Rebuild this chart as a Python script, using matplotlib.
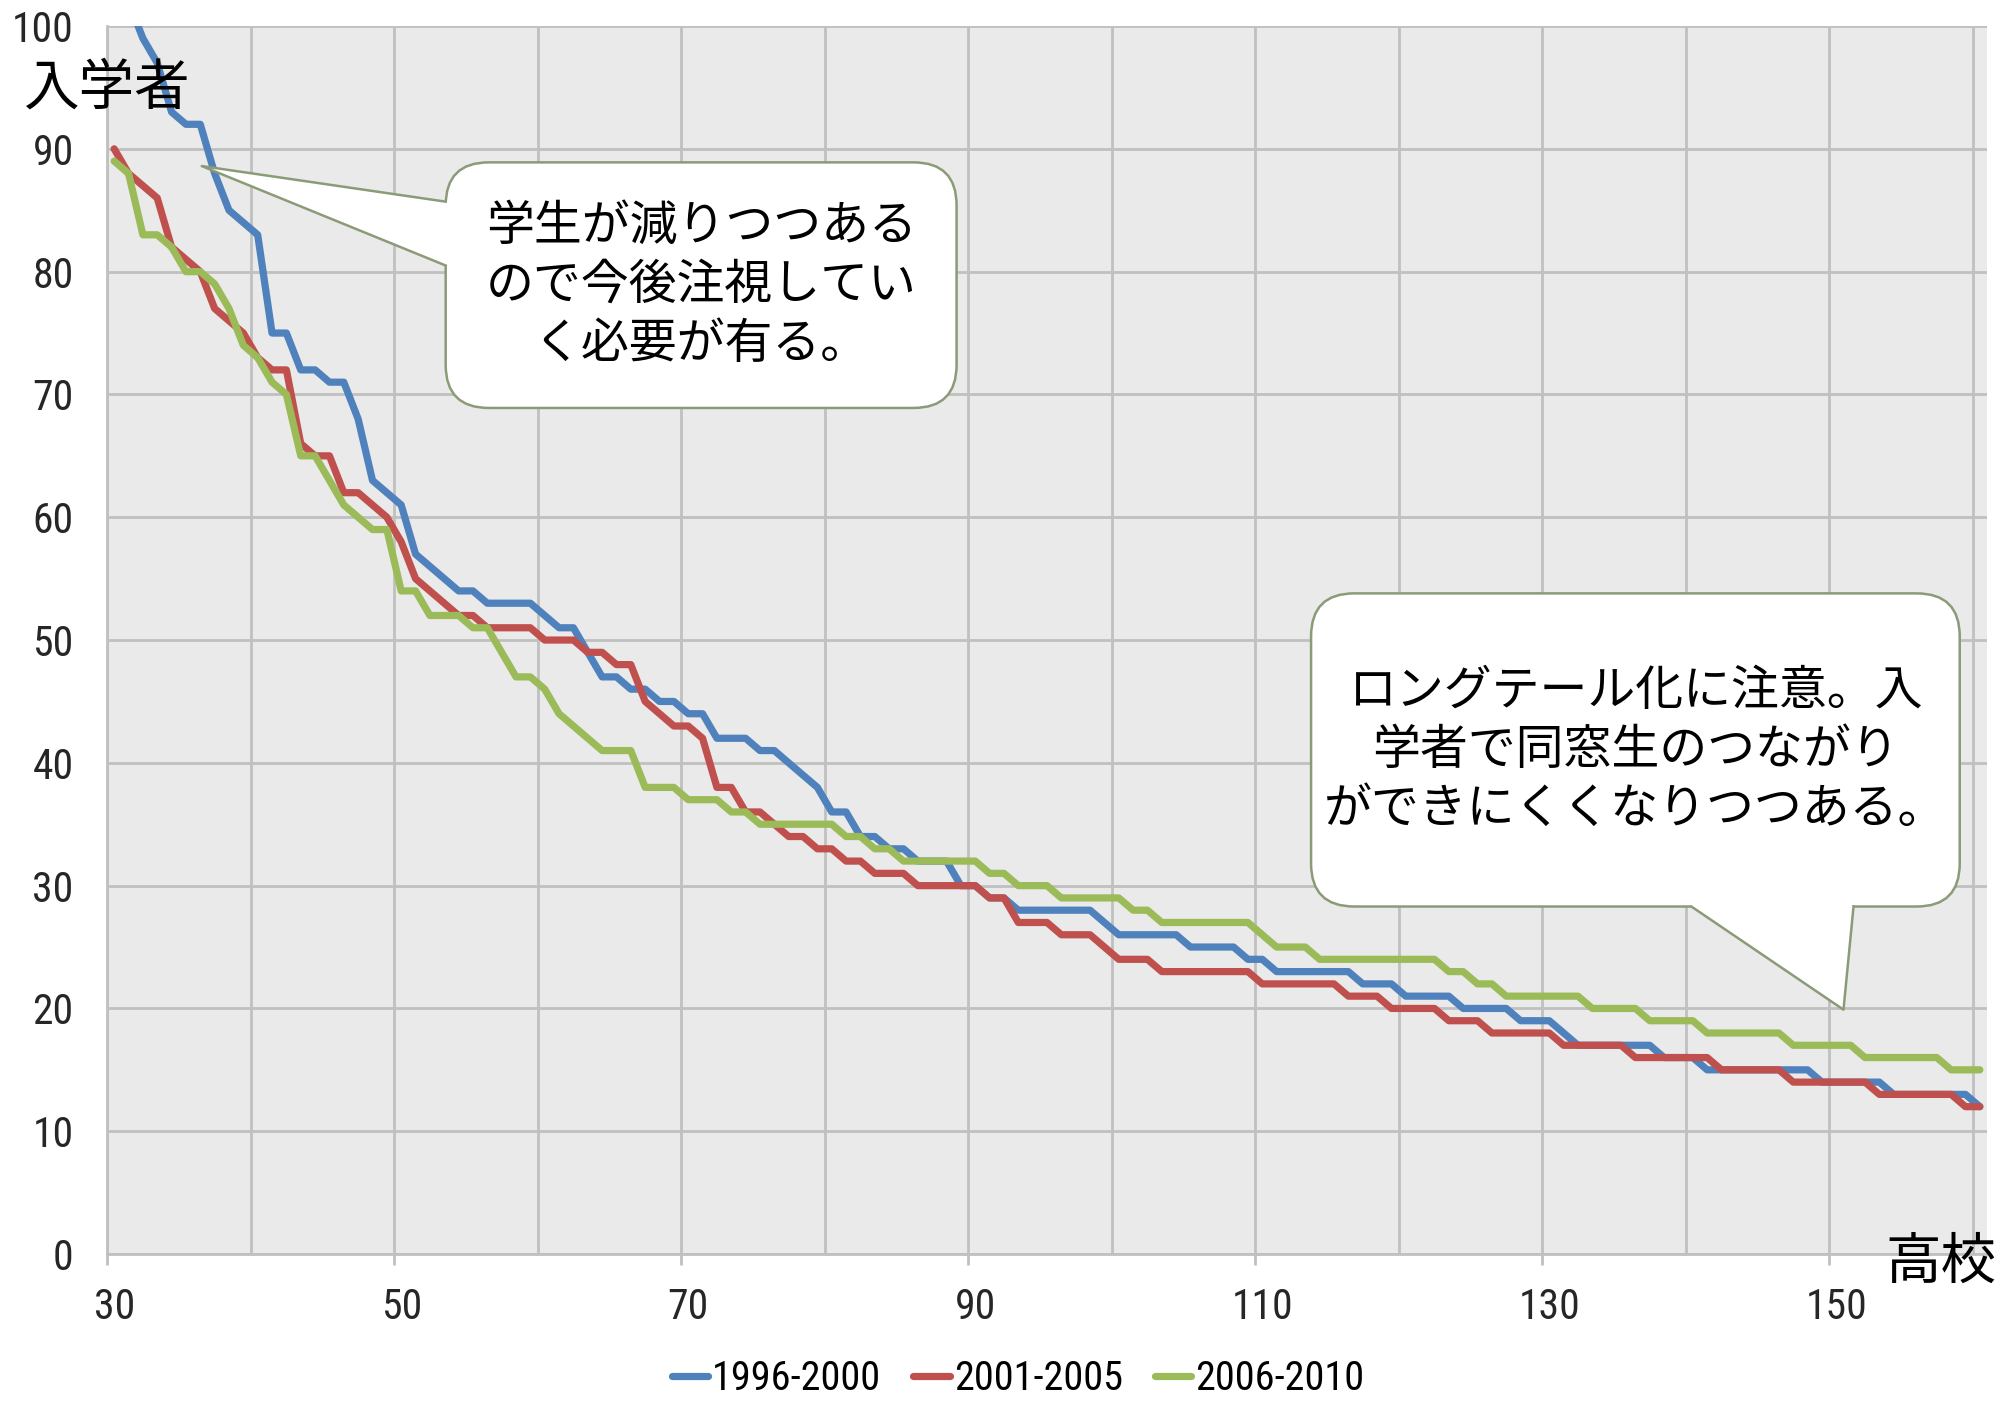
import numpy as np
import matplotlib
matplotlib.use("Agg")
import matplotlib.pyplot as plt
from matplotlib.patches import FancyBboxPatch, Polygon
from matplotlib.lines import Line2D

plt.rcParams['font.family'] = ['Noto Sans CJK JP', 'DejaVu Sans']

# ---- DATA ----
# high school rank (category axis) 30 .. 160
schools = list(range(30, 161))

series_names = ["1996-2000", "2001-2005", "2006-2010"]

enroll_1996 = [
    106, 102, 99, 97, 93, 92, 92, 88, 85, 84,
    83, 75, 75, 72, 72, 71, 71, 68, 63, 62,
    61, 57, 56, 55, 54, 54, 53, 53, 53, 53,
    52, 51, 51, 49, 47, 47, 46, 46, 45, 45,
    44, 44, 42, 42, 42, 41, 41, 40, 39, 38,
    36, 36, 34, 34, 33, 33, 32, 32, 32, 30,
    30, 29, 29, 28, 28, 28, 28, 28, 28, 27,
    26, 26, 26, 26, 26, 25, 25, 25, 25, 24,
    24, 23, 23, 23, 23, 23, 23, 22, 22, 22,
    21, 21, 21, 21, 20, 20, 20, 20, 19, 19,
    19, 18, 17, 17, 17, 17, 17, 17, 16, 16,
    16, 15, 15, 15, 15, 15, 15, 15, 15, 14,
    14, 14, 14, 14, 13, 13, 13, 13, 13, 13,
    12,
]

enroll_2001 = [
    90, 88, 87, 86, 82, 81, 80, 77, 76, 75,
    73, 72, 72, 66, 65, 65, 62, 62, 61, 60,
    58, 55, 54, 53, 52, 52, 51, 51, 51, 51,
    50, 50, 50, 49, 49, 48, 48, 45, 44, 43,
    43, 42, 38, 38, 36, 36, 35, 34, 34, 33,
    33, 32, 32, 31, 31, 31, 30, 30, 30, 30,
    30, 29, 29, 27, 27, 27, 26, 26, 26, 25,
    24, 24, 24, 23, 23, 23, 23, 23, 23, 23,
    22, 22, 22, 22, 22, 22, 21, 21, 21, 20,
    20, 20, 20, 19, 19, 19, 18, 18, 18, 18,
    18, 17, 17, 17, 17, 17, 16, 16, 16, 16,
    16, 16, 15, 15, 15, 15, 15, 14, 14, 14,
    14, 14, 14, 13, 13, 13, 13, 13, 13, 12,
    12,
]

enroll_2006 = [
    89, 88, 83, 83, 82, 80, 80, 79, 77, 74,
    73, 71, 70, 65, 65, 63, 61, 60, 59, 59,
    54, 54, 52, 52, 52, 51, 51, 49, 47, 47,
    46, 44, 43, 42, 41, 41, 41, 38, 38, 38,
    37, 37, 37, 36, 36, 35, 35, 35, 35, 35,
    35, 34, 34, 33, 33, 32, 32, 32, 32, 32,
    32, 31, 31, 30, 30, 30, 29, 29, 29, 29,
    29, 28, 28, 27, 27, 27, 27, 27, 27, 27,
    26, 25, 25, 25, 24, 24, 24, 24, 24, 24,
    24, 24, 24, 23, 23, 22, 22, 21, 21, 21,
    21, 21, 21, 20, 20, 20, 20, 19, 19, 19,
    19, 18, 18, 18, 18, 18, 18, 17, 17, 17,
    17, 17, 16, 16, 16, 16, 16, 16, 15, 15,
    15,
]

x_labels = [30, 50, 70, 90, 110, 130, 150]
y_ticks = [0, 10, 20, 30, 40, 50, 60, 70, 80, 90, 100]

COLORS = ["#4f81bd", "#c0504d", "#9bbb59"]
GRID = "#c0c0c0"
CALLOUT_EDGE = "#8b9b78"
NUM_FONT = ['Roboto Condensed', 'Liberation Sans Narrow', 'DejaVu Sans']


def draw_callout(ax, box, base, tip, text, aspect):
    """Rounded white speech bubble with a triangular pointer (data coords)."""
    x0, y0, x1, y1 = box
    patch = FancyBboxPatch((x0, y0), x1 - x0, y1 - y0,
                           boxstyle="round,pad=0,rounding_size=3.0",
                           mutation_aspect=aspect,
                           facecolor="white", edgecolor=CALLOUT_EDGE,
                           linewidth=1.8, zorder=5)
    ax.add_patch(patch)
    (bx1, by1), (bx2, by2) = base
    # fill slightly into the box so the border under the pointer is hidden
    cx, cy = (x0 + x1) / 2, (y0 + y1) / 2
    inner1 = (bx1 + (cx - bx1) * 0.04, by1 + (cy - by1) * 0.04)
    inner2 = (bx2 + (cx - bx2) * 0.04, by2 + (cy - by2) * 0.04)
    ax.add_patch(Polygon([inner1, (bx1, by1), tip, (bx2, by2), inner2],
                         closed=True, facecolor="white", edgecolor="none",
                         zorder=6))
    ax.add_line(Line2D([bx1, tip[0], bx2], [by1, tip[1], by2],
                       color=CALLOUT_EDGE, linewidth=1.8, zorder=7))
    ax.text(cx, cy, text, ha="center", va="center", multialignment="center",
            fontsize=34.5, linespacing=1.24, zorder=8, color="black")


def plot_enrollment():
    fig = plt.figure(figsize=(20, 14.01), dpi=100)
    ax = fig.add_axes([0.0535, 0.1049, 0.94, 0.8765])
    ax.set_facecolor("#eaeaea")

    for vals, name, col in zip([enroll_1996, enroll_2001, enroll_2006],
                               series_names, COLORS):
        ax.plot(schools, vals, color=col, linewidth=5.2, label=name,
                solid_joinstyle="round", solid_capstyle="round", zorder=3)

    ax.set_xlim(schools[0] - 0.5, schools[-1] + 0.5)
    ax.set_ylim(0, 100)

    # gridlines sit on category boundaries, labels at category centres
    ax.set_xticks(np.arange(schools[0] - 0.5, schools[-1], 20))
    ax.set_xticks(np.arange(schools[0] + 9.5, schools[-1] + 1, 20), minor=True)
    ax.tick_params(axis="x", which="major", length=8, width=2.0, color=GRID,
                   labelbottom=False)
    ax.tick_params(axis="x", which="minor", length=0, labelbottom=False)
    ax.set_yticks(y_ticks)
    ax.set_yticklabels([str(v) for v in y_ticks], family=NUM_FONT,
                       stretch="condensed", fontsize=30, color="#262626")
    ax.tick_params(axis="y", length=0, pad=24)
    ax.grid(True, which="both", axis="x", color=GRID, linewidth=2.0)
    ax.grid(True, which="major", axis="y", color=GRID, linewidth=2.0)
    ax.set_axisbelow(True)

    for side in ["top", "right"]:
        ax.spines[side].set_visible(False)
    for side in ["left", "bottom"]:
        ax.spines[side].set_color(GRID)
        ax.spines[side].set_linewidth(2.0)

    sec = ax.secondary_xaxis("bottom")
    sec.set_xticks(x_labels)
    sec.set_xticklabels([str(v) for v in x_labels], family=NUM_FONT,
                        stretch="condensed", fontsize=30, color="#262626")
    sec.tick_params(length=0, pad=24)
    sec.spines["bottom"].set_visible(False)

    # callouts
    fig.canvas.draw()
    bb = ax.get_window_extent()
    px_x = bb.width / (ax.get_xlim()[1] - ax.get_xlim()[0])
    px_y = bb.height / (ax.get_ylim()[1] - ax.get_ylim()[0])
    aspect = px_x / px_y

    draw_callout(ax, (53.1, 68.9, 88.7, 88.9),
                 [(53.1, 85.7), (53.1, 80.5)], (36.1, 88.6),
                 "学生が減りつつある\nので今後注視してい\nく必要が有る。", aspect)
    draw_callout(ax, (113.4, 28.3, 158.6, 53.8),
                 [(139.9, 28.3), (151.2, 28.3)], (150.5, 19.9),
                 "ロングテール化に注意。入\n学者で同窓生のつながり\nができにくくなりつつある。",
                 aspect)

    # axis titles
    fig.text(0.012, 0.9365, "入学者", fontsize=40, ha="left", va="center")
    fig.text(0.998, 0.0985, "高校", fontsize=40, ha="right", va="center")

    handles, labels = ax.get_legend_handles_labels()
    fig.legend(handles, labels, loc="center", bbox_to_anchor=(0.509, 0.016),
               ncol=3, frameon=False, handlelength=0.9, handletextpad=0.1,
               columnspacing=0.8,
               prop={"family": NUM_FONT, "size": 29, "stretch": "condensed"})

    fig.savefig("out.png", dpi=100, facecolor="white")


if __name__ == "__main__":
    plot_enrollment()
